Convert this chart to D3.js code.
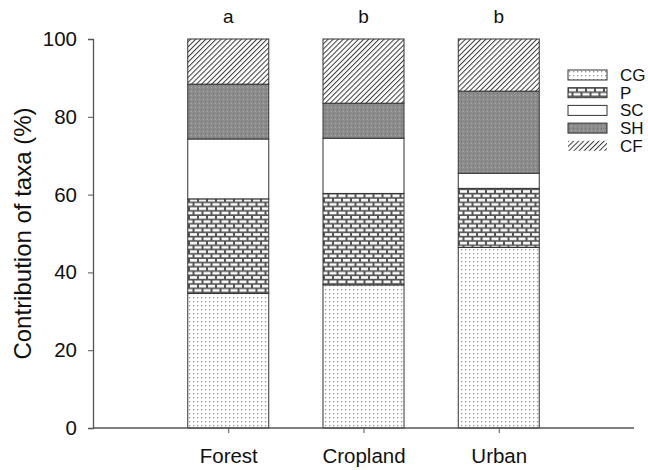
<!DOCTYPE html>
<html>
<head>
<meta charset="utf-8">
<script src="https://cdn.jsdelivr.net/npm/d3@7"></script>
<style>
  body { margin: 0; background: #fff; }
  text { font-family: Arial, "Liberation Sans", sans-serif; fill: #111; }
</style>
</head>
<body>
<svg width="648" height="470"></svg>
<script>
// data
const sites = ["Forest", "Cropland", "Urban"];
const taxa = ["CG", "P", "SC", "SH", "CF"];
const CG = [34.6, 36.8, 46.4];
const P  = [24.3, 23.5, 15.2];
const SC = [15.4, 14.2, 3.9];
const SH = [14.1, 9.0, 21.1];
const CF = [11.6, 16.5, 13.4];
const letters = ["a", "b", "b"];
const yTicks = [0, 20, 40, 60, 80, 100];

const svg = d3.select("svg");

const rows = sites.map((s, i) => ({site: s, CG: CG[i], P: P[i], SC: SC[i], SH: SH[i], CF: CF[i]}));
const series = d3.stack().keys(taxa)(rows);

// x is positional: sites sit at 1, 2, 3 on a 0..4 axis
const x = d3.scaleLinear().domain([0, 4]).range([93, 634]);
const y = d3.scaleLinear().domain([0, 100]).range([428, 39]);
const barW = 81;

// patterns
const defs = svg.append("defs");

const dots = defs.append("pattern").attr("id", "pat-CG")
  .attr("patternUnits", "userSpaceOnUse").attr("width", 4).attr("height", 4);
dots.append("rect").attr("width", 4).attr("height", 4).attr("fill", "#fff");
dots.append("rect").attr("x", 1).attr("y", 1).attr("width", 1.3).attr("height", 1.3).attr("fill", "#999");

const brick = defs.append("pattern").attr("id", "pat-P")
  .attr("patternUnits", "userSpaceOnUse").attr("width", 9).attr("height", 8.6);
brick.append("rect").attr("width", 9).attr("height", 8.6).attr("fill", "#555");
brick.append("rect").attr("x", 1).attr("y", 1).attr("width", 7).attr("height", 2.6).attr("fill", "#fff");
brick.append("rect").attr("x", -3.5).attr("y", 5.3).attr("width", 7).attr("height", 2.6).attr("fill", "#fff");
brick.append("rect").attr("x", 5.5).attr("y", 5.3).attr("width", 7).attr("height", 2.6).attr("fill", "#fff");

const shade = defs.append("pattern").attr("id", "pat-SH")
  .attr("patternUnits", "userSpaceOnUse").attr("width", 4).attr("height", 4);
shade.append("rect").attr("width", 4).attr("height", 4).attr("fill", "#8c8c8c");
shade.append("rect").attr("x", 1).attr("y", 1).attr("width", 1).attr("height", 1).attr("fill", "#6e6e6e");
shade.append("rect").attr("x", 3).attr("y", 3).attr("width", 1).attr("height", 1).attr("fill", "#a8a8a8");

const hatch = defs.append("pattern").attr("id", "pat-CF")
  .attr("patternUnits", "userSpaceOnUse").attr("width", 3.6).attr("height", 3.6)
  .attr("patternTransform", "rotate(45)");
hatch.append("rect").attr("width", 3.6).attr("height", 3.6).attr("fill", "#fff");
hatch.append("line").attr("x1", 0).attr("y1", 0).attr("x2", 0).attr("y2", 3.6)
  .attr("stroke", "#3a3a3a").attr("stroke-width", 2);

const fillFor = k => k === "SC" ? "#fff" : `url(#pat-${k})`;

// bars
svg.append("g")
  .selectAll("g")
  .data(series)
  .join("g")
  .attr("fill", d => fillFor(d.key))
  .selectAll("rect")
  .data(d => d)
  .join("rect")
  .attr("x", (d, i) => x(i + 1) - barW / 2)
  .attr("y", d => y(d[1]))
  .attr("width", barW)
  .attr("height", d => y(d[0]) - y(d[1]))
  .attr("stroke", "#333")
  .attr("stroke-width", 1);

// axes
const yAxis = svg.append("g")
  .attr("transform", `translate(${x(0)},0)`)
  .call(d3.axisLeft(y).tickValues(yTicks).tickSize(5).tickPadding(11));
const xAxis = svg.append("g")
  .attr("transform", `translate(0,${y(0)})`)
  .call(d3.axisBottom(x).tickValues([1, 2, 3]).tickFormat((d) => sites[d - 1]).tickSize(5).tickPadding(15));
[yAxis, xAxis].forEach(a => {
  a.select(".domain").attr("stroke", "#555").attr("stroke-width", 1.3);
  a.selectAll(".tick line").attr("stroke", "#555");
  a.selectAll("text").attr("fill", "#111").style("font-size", "20.5px")
    .style("font-family", "Arial, 'Liberation Sans', sans-serif");
});
xAxis.select(".domain").attr("d", `M${x(0)},0H${x(4)}`);

// significance letters
svg.append("g")
  .selectAll("text")
  .data(letters)
  .join("text")
  .attr("x", (d, i) => x(i + 1))
  .attr("y", 23)
  .attr("text-anchor", "middle")
  .style("font-size", "19px")
  .text(d => d);

// y title
svg.append("text")
  .attr("transform", `translate(31,${(y(0) + y(100)) / 2}) rotate(-90)`)
  .attr("text-anchor", "middle")
  .style("font-size", "24px")
  .text("Contribution of taxa (%)");

// legend
const legend = svg.append("g").attr("transform", "translate(568,70)");
const item = legend.selectAll("g")
  .data(taxa)
  .join("g")
  .attr("transform", (d, i) => `translate(0,${i * 17.7})`);
item.append("rect")
  .attr("width", 39).attr("height", 10)
  .attr("fill", d => fillFor(d))
  .attr("stroke", d => d === "CF" ? "none" : "#333");
item.append("text")
  .attr("x", 52).attr("y", 11)
  .style("font-size", "17px")
  .text(d => d);
</script>
</body>
</html>
